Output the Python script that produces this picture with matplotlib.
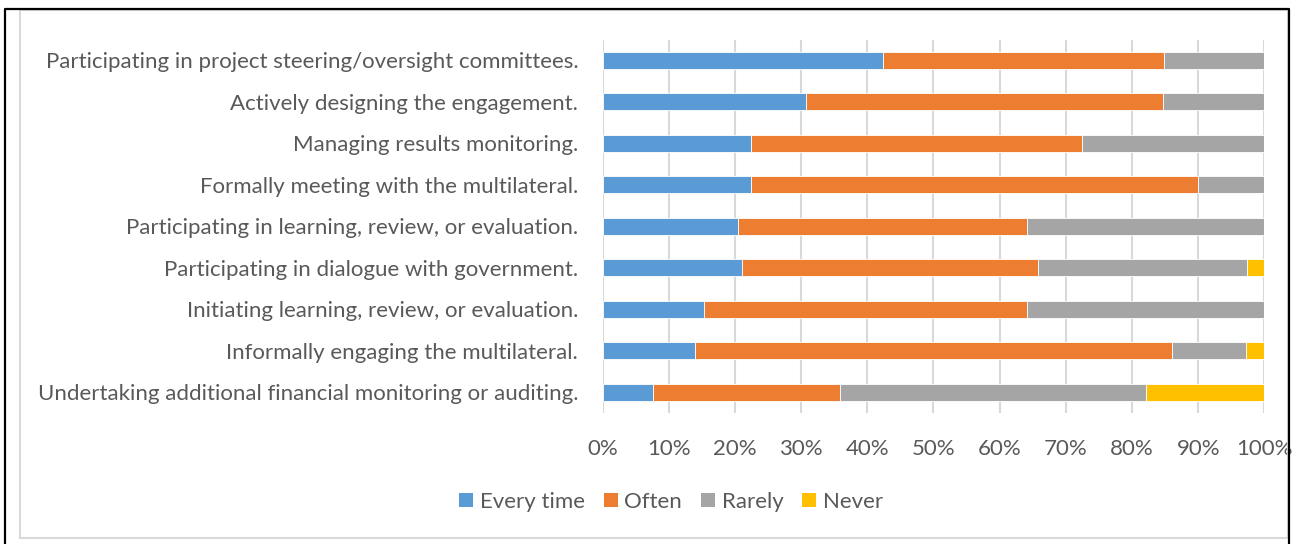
import matplotlib
matplotlib.use("Agg")
import matplotlib.pyplot as plt
from matplotlib.lines import Line2D
from matplotlib.patches import Rectangle, Patch
import numpy as np

categories = [
    "Participating in project steering/oversight committees.",
    "Actively designing the engagement.",
    "Managing results monitoring.",
    "Formally meeting with the multilateral.",
    "Participating in learning, review, or evaluation.",
    "Participating in dialogue with government.",
    "Initiating learning, review, or evaluation.",
    "Informally engaging the multilateral.",
    "Undertaking additional financial monitoring or auditing.",
]
series_names = ["Every time", "Often", "Rarely", "Never"]
every_time = [42.4, 30.8, 22.5, 22.5, 20.5, 21.1, 15.4, 13.9, 7.7]
often = [42.4, 53.8, 50.0, 67.5, 43.6, 44.7, 48.7, 72.2, 28.2]
rarely = [15.2, 15.4, 27.5, 10.0, 35.9, 31.6, 35.9, 11.1, 46.2]
never = [0.0, 0.0, 0.0, 0.0, 0.0, 2.6, 0.0, 2.8, 17.9]
tick_values = [0, 10, 20, 30, 40, 50, 60, 70, 80, 90, 100]
tick_labels = [f"{v}%" for v in tick_values]

colors = ["#5B9BD5", "#ED7D31", "#A5A5A5", "#FFC000"]
text_color = "#595959"
grid_color = "#D9D9D9"
font = ["Lato", "DejaVu Sans"]
fs = 16

W, H = 1299, 544
fig = plt.figure(figsize=(W / 100, H / 100), dpi=100)
fig.patch.set_facecolor("white")

ax = fig.add_axes([602.5 / W, 1 - 413 / H, (1264.5 - 602.5) / W, (413 - 39.5) / H])

y = np.arange(len(categories))
left = np.zeros(len(categories))
for name, vals, c in zip(series_names, [every_time, often, rarely, never], colors):
    vals = np.asarray(vals)
    ax.barh(y, vals, left=left, height=0.4, color=c, edgecolor="white",
            linewidth=0.6, label=name, zorder=3)
    left = left + vals

ax.set_xlim(0, 100)
ax.set_ylim(len(categories) - 0.5, -0.5)
ax.set_xticks(tick_values)
ax.set_xticklabels(tick_labels)
ax.set_yticks(y)
ax.set_yticklabels(categories)
ax.tick_params(length=0, colors=text_color, labelsize=fs)
ax.tick_params(axis="y", pad=17.5)
ax.tick_params(axis="x", pad=19)
for lab in ax.get_xticklabels() + ax.get_yticklabels():
    lab.set_fontfamily(font)
    lab.set_color(text_color)
ax.grid(axis="x", color=grid_color, linewidth=1.5, zorder=0)
for s in ax.spines.values():
    s.set_visible(False)

handles = [Patch(facecolor=c, edgecolor="none") for c in colors]
fig.legend(handles, series_names, loc="center", bbox_to_anchor=(671 / W, 1 - 502 / H),
           ncol=4, frameon=False, handlelength=0.63, handleheight=0.63,
           handletextpad=0.3, columnspacing=0.85,
           prop={"family": font, "size": fs}, labelcolor=text_color)

# chart frame and page border
fig.add_artist(Rectangle((20 / W, 1 - 538 / H), (1288 - 20) / W, (538 - 10) / H,
                         transform=fig.transFigure, fill=False,
                         edgecolor=grid_color, linewidth=1.5))
fig.add_artist(Line2D([5 / W, 5 / W, 1289 / W, 1289 / W],
                      [0, 1 - 9 / H, 1 - 9 / H, 0],
                      transform=fig.transFigure, color="black", linewidth=1.6))

fig.savefig("out.png", dpi=100)
